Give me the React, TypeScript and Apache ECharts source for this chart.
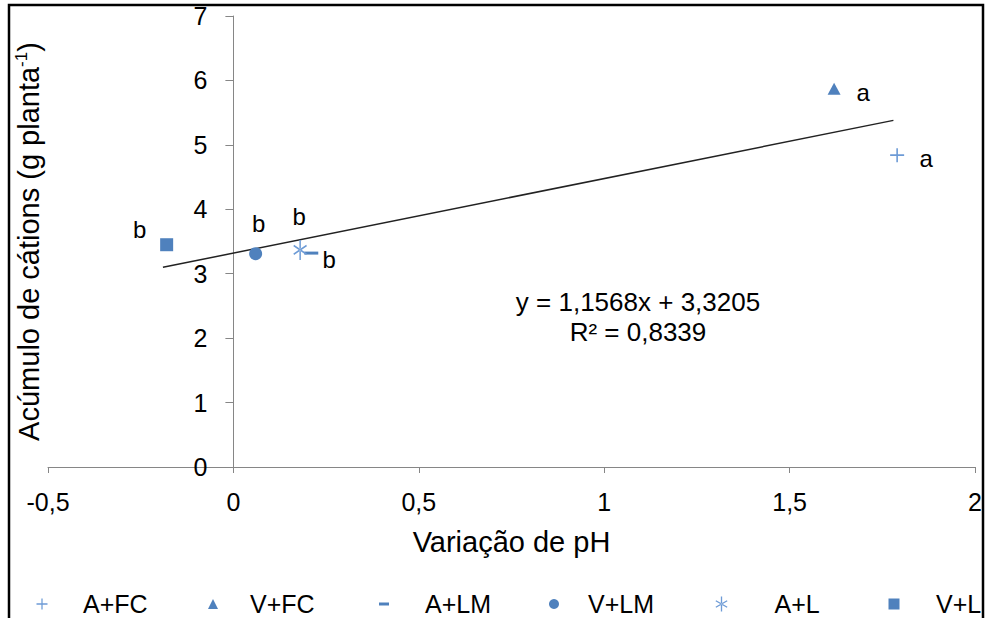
import React, { useEffect, useRef } from "react";
import * as echarts from "echarts";

// ---- data ----
const seriesNames = ["A+FC", "V+FC", "A+LM", "V+LM", "A+L", "V+L"];
const pointX = [1.79, 1.62, 0.21, 0.06, 0.18, -0.18];
const pointY = [4.84, 5.87, 3.32, 3.31, 3.37, 3.45];
const pointLetters = ["a", "a", "b", "b", "b", "b"];
const trendX = [-0.19, 1.78];
const trendY = [3.1, 5.38];
const equationText = "y = 1,1568x + 3,3205";
const r2Text = "R² = 0,8339";
const xTicks = [-0.5, 0, 0.5, 1, 1.5, 2];

// ---- styles ----
const BLUE = "#4F81BD";
const LIGHTBLUE = "#6D9BD6";
const FONT = "'Liberation Sans', Arial, sans-serif";

const GRID_LEFT = 48;
const GRID_RIGHT = 12;
const CHART_W = 987;

const plusPath = "path://M6.2,0h1.6v6.2h6.2v1.6h-6.2v6.2h-1.6v-6.2h-6.2v-1.6h6.2z";
const asteriskPath =
  "path://M7.3,0h1.4v16h-1.4z M1.6,5.1L13.7,12.1L14.4,10.9L2.3,3.9z M2.3,12.1L14.4,5.1L13.7,3.9L1.6,10.9z";

const symbols = [plusPath, "triangle", "rect", "circle", asteriskPath, "rect"];
const symbolSizes: any[] = [[14, 14], [13, 12], [14, 3], [13, 13], [17, 20], [13, 13]];
const colors = [LIGHTBLUE, BLUE, BLUE, BLUE, LIGHTBLUE, BLUE];
const labelOffsets = [[29, 3], [29, 4], [18, 6], [3, -30], [-1, -33], [-27, -15]];

// legend layout
const legendIconX = [42, 213, 384, 554, 722, 894];
const legendTextX = [83, 250, 425, 588, 775, 936];
const legendIconSize: any[] = [[11, 11], [10, 10], [10, 3], [10, 10], [13, 15], [11, 11]];

export default function App() {
  const ref = useRef<HTMLDivElement>(null);
  useEffect(() => {
    if (!ref.current) return;
    const chart = echarts.init(ref.current, null, { renderer: "svg" });

    const xMin = xTicks[0];
    const xMax = xTicks[xTicks.length - 1];
    const gridW = CHART_W - GRID_LEFT - GRID_RIGHT;
    // shift the y axis so it sits on x = 0 of the value axis
    const yAxisShift = ((0 - xMin) / (xMax - xMin)) * gridW;

    const scatterSeries = seriesNames.map((name, i) => ({
      name,
      type: "scatter",
      data: [[pointX[i], pointY[i]]],
      symbol: symbols[i],
      symbolSize: symbolSizes[i],
      symbolKeepAspect: true,
      itemStyle: { color: colors[i], opacity: 1 },
      label: {
        show: true,
        position: "inside",
        offset: labelOffsets[i],
        formatter: pointLetters[i],
        color: "#000",
        fontSize: 24,
        fontFamily: FONT,
      },
      z: 3,
    }));

    const legends = seriesNames.map((name, i) => {
      const w = legendIconSize[i][0];
      const h = legendIconSize[i][1];
      const left = legendIconX[i] - w / 2;
      const pad = Math.max(0, legendTextX[i] - (legendIconX[i] + w / 2) - 5);
      return {
        show: true,
        data: [{ name, icon: symbols[i] }],
        left,
        top: 590,
        padding: 0,
        itemWidth: w,
        itemHeight: h,
        selectedMode: false,
        textStyle: {
          color: "#000",
          fontSize: 25,
          fontFamily: FONT,
          lineHeight: 28,
          padding: [0, 0, 0, pad],
        },
      };
    });

    chart.setOption({
      animation: false,
      backgroundColor: "#fff",
      grid: {
        left: GRID_LEFT,
        right: GRID_RIGHT,
        top: 16,
        bottom: 151,
        containLabel: false,
        outerBoundsMode: "none",
      },
      legend: legends,
      xAxis: {
        type: "value",
        min: xMin,
        max: xMax,
        interval: 0.5,
        name: "Variação de pH",
        nameLocation: "middle",
        nameGap: 60,
        nameTextStyle: { color: "#000", fontSize: 29, fontFamily: FONT },
        axisLine: { onZero: false, lineStyle: { color: "#868686", width: 1 } },
        axisTick: { show: true, length: 6, lineStyle: { color: "#868686" } },
        splitLine: { show: false },
        axisLabel: {
          color: "#000",
          fontSize: 25,
          fontFamily: FONT,
          margin: 22,
          formatter: (v: number) => String(v).replace(".", ","),
        },
      },
      yAxis: {
        type: "value",
        position: "left",
        offset: -yAxisShift,
        min: 0,
        max: 7,
        interval: 1,
        name: "Acúmulo de cátions (g planta{sup|-1})",
        nameLocation: "middle",
        nameGap: 189,
        nameTextStyle: {
          color: "#000",
          fontSize: 29,
          fontFamily: FONT,
          rich: {
            sup: { fontSize: 17, fontFamily: FONT, color: "#000", padding: [0, 0, 14, 0] },
          },
        },
        axisLine: { onZero: false, lineStyle: { color: "#868686", width: 1 } },
        axisTick: { show: true, length: 8, lineStyle: { color: "#868686" } },
        splitLine: { show: false },
        axisLabel: { color: "#000", fontSize: 25, fontFamily: FONT, margin: 26 },
      },
      series: [
        ...scatterSeries,
        {
          name: "trend",
          type: "line",
          data: trendX.map((x, i) => [x, trendY[i]]),
          symbol: "none",
          lineStyle: { color: "#222", width: 1.5 },
          z: 2,
          silent: true,
        },
      ],
      graphic: [
        {
          type: "text",
          x: 638,
          y: 302,
          style: {
            text: equationText,
            fill: "#000",
            font: `26px ${FONT}`,
            align: "center",
            verticalAlign: "middle",
          },
        },
        {
          type: "text",
          x: 638,
          y: 332,
          style: {
            text: r2Text,
            fill: "#000",
            font: `26px ${FONT}`,
            align: "center",
            verticalAlign: "middle",
          },
        },
        {
          type: "rect",
          shape: { x: 9, y: 5, width: 974, height: 625 },
          style: { fill: "none", stroke: "#000", lineWidth: 2.5 },
          z: 100,
        },
      ],
    });
    return () => chart.dispose();
  }, []);
  return (
    <div
      ref={ref}
      style={{ position: "absolute", left: 0, top: 0, width: 987, height: 618 }}
    />
  );
}
